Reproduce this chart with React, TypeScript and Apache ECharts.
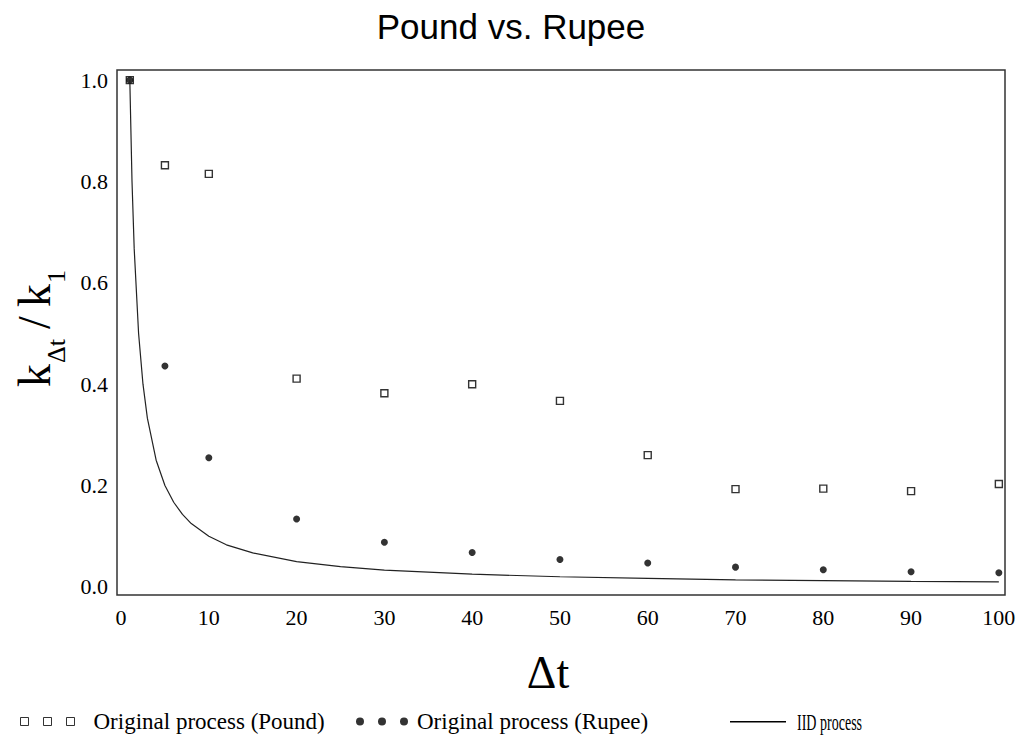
import React, { useEffect, useRef } from 'react';
import * as echarts from 'echarts';

// Lag (Δt) at which the normalized coefficients were measured
const deltaT = [1, 5, 10, 20, 30, 40, 50, 60, 70, 80, 90, 100];
// k_Δt / k_1 for the original Pound series
const poundRatio = [1.0, 0.832, 0.815, 0.411, 0.382, 0.4, 0.367, 0.26, 0.193, 0.194, 0.189, 0.203];
// k_Δt / k_1 for the original Rupee series
const rupeeRatio = [1.0, 0.436, 0.255, 0.134, 0.088, 0.068, 0.054, 0.047, 0.039, 0.034, 0.03, 0.028];
// Reference curve for an IID process
const iidDeltaT = [1, 1.25, 1.5, 2, 2.5, 3, 4, 5, 6, 7, 8, 10, 12, 15, 20, 25, 30, 40, 50, 60, 70, 80, 90, 100];
const iidRatio = [1, 0.8, 0.667, 0.5, 0.4, 0.333, 0.25, 0.2, 0.167, 0.143, 0.125, 0.1, 0.083, 0.067, 0.05, 0.04, 0.033, 0.025, 0.02, 0.017, 0.014, 0.0125, 0.011, 0.01];

const xTickValues = [0, 10, 20, 30, 40, 50, 60, 70, 80, 90, 100];
const yTickValues = [0, 0.2, 0.4, 0.6, 0.8, 1.0];
const seriesNames = ['Original process (Pound)', 'Original process (Rupee)', 'IID process'];
const chartTitle = 'Pound vs. Rupee';

const SERIF = '"Liberation Serif", "Times New Roman", serif';
const SANS = '"Liberation Sans", Arial, sans-serif';

// legend glyphs: three hollow squares, three dots, a plain rule
const squaresIcon = 'path://M0,0H8V8H0Z M23,0H31V8H23Z M46,0H54V8H46Z';
const dotsIcon = 'path://M0,4a4,4 0 1,0 8,0a4,4 0 1,0 -8,0Z M22,4a4,4 0 1,0 8,0a4,4 0 1,0 -8,0Z M44,4a4,4 0 1,0 8,0a4,4 0 1,0 -8,0Z';
const ruleIcon = 'path://M0,0H56V1.5H0Z';

const LEGEND_TOP = 710;

export default function App() {
  const ref = useRef<HTMLDivElement>(null);

  useEffect(() => {
    if (!ref.current) return;
    const chart = echarts.init(ref.current, null, { renderer: 'svg' });

    const legendBase = (left: number, w: number, h: number, gap: number) => ({
      left,
      top: LEGEND_TOP,
      padding: 0,
      orient: 'horizontal',
      itemWidth: w,
      itemHeight: h,
      selectedMode: false,
      textStyle: { fontFamily: SERIF, fontSize: 23, color: '#000', padding: [0, 0, 0, gap] },
    });

    const option: any = {
      animation: false,
      backgroundColor: '#fff',
      grid: {
        left: 117,
        right: 17,
        top: 70,
        bottom: 152,
        show: true,
        borderColor: '#333',
        borderWidth: 1.5,
        backgroundColor: 'transparent',
      },
      xAxis: {
        type: 'value',
        min: -0.46,
        max: 100.7,
        axisLine: { show: false },
        axisTick: { show: false },
        splitLine: { show: false },
        axisLabel: {
          customValues: xTickValues,
          fontFamily: SERIF,
          fontSize: 22,
          color: '#000',
          margin: 11,
        },
      },
      yAxis: {
        type: 'value',
        min: -0.016,
        max: 1.02,
        axisLine: { show: false },
        axisTick: { show: false },
        splitLine: { show: false },
        axisLabel: {
          customValues: yTickValues,
          formatter: (v: number) => v.toFixed(1),
          fontFamily: SERIF,
          fontSize: 22,
          color: '#000',
          margin: 9,
        },
      },
      legend: [
        {
          ...legendBase(20, 54, 8, 14),
          data: [{ name: seriesNames[0], icon: squaresIcon, itemStyle: { color: '#fff', borderColor: '#000', borderWidth: 1 } }],
        },
        {
          ...legendBase(356, 52, 8, 4),
          data: [{ name: seriesNames[1], icon: dotsIcon, itemStyle: { color: '#000', borderWidth: 0 } }],
        },
        {
          // the label of this entry is set in a condensed face below
          ...legendBase(730, 56, 1.5, 0),
          top: LEGEND_TOP + 11,
          formatter: () => '',
          data: [{ name: seriesNames[2], icon: ruleIcon, itemStyle: { color: '#000', borderWidth: 0 } }],
        },
      ],
      series: [
        {
          name: seriesNames[2],
          type: 'line',
          data: iidDeltaT.map((d, i) => [d, iidRatio[i]]),
          showSymbol: false,
          symbol: 'none',
          lineStyle: { color: '#222', width: 1.2 },
          silent: true,
        },
        {
          name: seriesNames[0],
          type: 'scatter',
          data: deltaT.map((d, i) => [d, poundRatio[i]]),
          symbol: 'rect',
          symbolSize: 7,
          itemStyle: { color: '#fff', borderColor: '#000', borderWidth: 1.4 },
        },
        {
          name: seriesNames[1],
          type: 'scatter',
          data: deltaT.map((d, i) => [d, rupeeRatio[i]]),
          symbol: 'circle',
          symbolSize: 7,
          itemStyle: { color: '#000' },
        },
      ],
      graphic: [
        {
          type: 'text',
          x: 511,
          y: 26,
          style: { text: chartTitle, fontFamily: SANS, fontSize: 35, fill: '#000', align: 'center', verticalAlign: 'middle' },
        },
        {
          type: 'text',
          x: 548,
          y: 672,
          style: { text: 'Δt', fontFamily: SERIF, fontSize: 46, fill: '#000', align: 'center', verticalAlign: 'middle' },
        },
        {
          type: 'text',
          x: 797,
          y: 722,
          scaleX: 0.61,
          style: { text: seriesNames[2], fontFamily: SERIF, fontSize: 23, fill: '#000', align: 'left', verticalAlign: 'middle' },
        },
        {
          // vertical axis title k_Δt / k_1, read bottom to top
          type: 'group',
          x: 48,
          y: 387,
          rotation: Math.PI / 2,
          children: [
            { type: 'text', x: 0, y: -14, style: { text: 'k', fontFamily: SERIF, fontSize: 46, fill: '#000', align: 'left', verticalAlign: 'middle' } },
            { type: 'text', x: 24, y: 8, style: { text: 'Δt', fontFamily: SERIF, fontSize: 26, fill: '#000', align: 'left', verticalAlign: 'middle' } },
            { type: 'text', x: 58, y: -14, style: { text: '/', fontFamily: SERIF, fontSize: 46, fill: '#000', align: 'left', verticalAlign: 'middle' } },
            { type: 'text', x: 80, y: -14, style: { text: 'k', fontFamily: SERIF, fontSize: 46, fill: '#000', align: 'left', verticalAlign: 'middle' } },
            { type: 'text', x: 104, y: 8, style: { text: '1', fontFamily: SERIF, fontSize: 26, fill: '#000', align: 'left', verticalAlign: 'middle' } },
          ],
        },
      ],
    };

    chart.setOption(option);
    return () => chart.dispose();
  }, []);

  return (
    <div
      ref={ref}
      style={{ position: 'fixed', left: 0, top: 0, width: 1022, height: 747, background: '#fff' }}
    />
  );
}
